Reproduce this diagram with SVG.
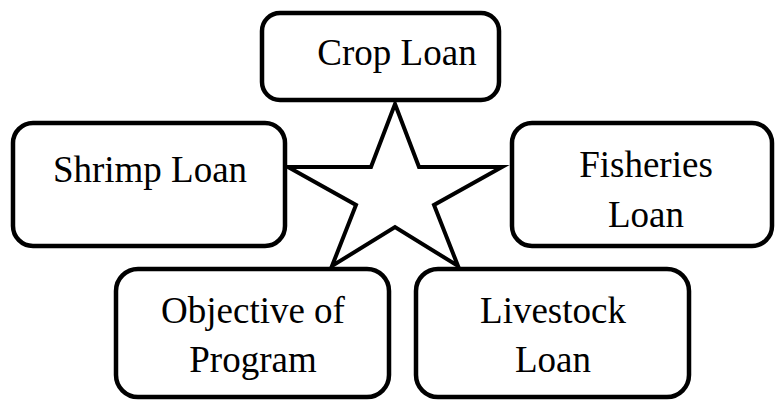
<svg xmlns="http://www.w3.org/2000/svg" width="775" height="401" viewBox="0 0 775 401">
<style>
.box{fill:#fff;stroke:#000;stroke-width:4.5}
.star{fill:#fff;stroke:#000;stroke-width:4;stroke-linejoin:miter}
text{font-family:'Liberation Serif','Times New Roman',Times,'DejaVu Serif',serif;font-size:37px;fill:#000;text-anchor:middle}
</style>
<rect width="775" height="401" fill="#fff"/>
<g id="star">
<polygon class="star" points="395,104 419,167 502,167 434,205 458,266 395,227 332,266 356,205 288,167 371,167"/>
</g>
<g id="connectors"></g>
<g id="crop-loan">
<rect class="box" x="262" y="13" width="237" height="87" rx="18"/>
<text x="397" y="65">Crop Loan</text>
</g>
<g id="shrimp-loan">
<rect class="box" x="13" y="123" width="272" height="123" rx="20"/>
<text x="150" y="182">Shrimp Loan</text>
</g>
<g id="fisheries-loan">
<rect class="box" x="512" y="123" width="260" height="123" rx="20"/>
<text x="646" y="177">Fisheries</text>
<text x="646" y="227">Loan</text>
</g>
<g id="objective-of-program">
<rect class="box" x="116" y="269" width="273" height="128" rx="22"/>
<text x="253" y="323">Objective of</text>
<text x="253" y="372">Program</text>
</g>
<g id="livestock-loan">
<rect class="box" x="416" y="269" width="273" height="128" rx="22"/>
<text x="553" y="323">Livestock</text>
<text x="553" y="372">Loan</text>
</g>
</svg>
